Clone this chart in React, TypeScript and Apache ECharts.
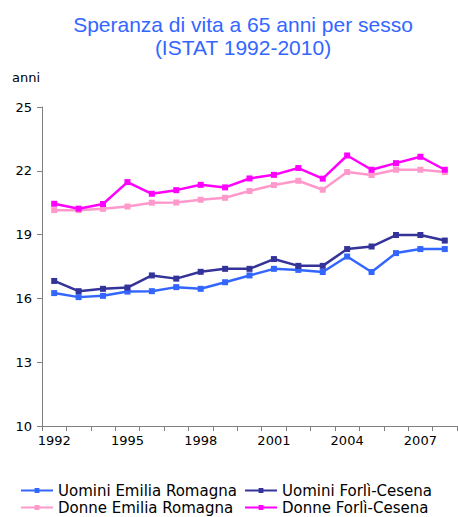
import React, { useEffect, useRef } from "react";
import * as echarts from "echarts";

const years = ["1992","1993","1994","1995","1996","1997","1998","1999","2000","2001","2002","2003","2004","2005","2006","2007","2008"];
const uominiER = [16.25,16.06,16.12,16.32,16.34,16.53,16.45,16.76,17.08,17.39,17.34,17.24,17.97,17.24,18.13,18.32,18.32];
const uominiFC = [16.82,16.34,16.45,16.51,17.08,16.93,17.25,17.39,17.39,17.85,17.53,17.53,18.32,18.44,18.98,18.98,18.72];
const donneER = [20.15,20.15,20.21,20.32,20.5,20.51,20.64,20.73,21.05,21.33,21.53,21.11,21.94,21.8,22.05,22.05,21.94];
const donneFC = [20.45,20.22,20.44,21.47,20.92,21.09,21.34,21.22,21.64,21.81,22.13,21.63,22.72,22.05,22.36,22.66,22.05];

const seriesNames = ["Uomini Emilia Romagna", "Uomini Forlì-Cesena", "Donne Emilia Romagna", "Donne Forlì-Cesena"];
const seriesColors = ["#3366FF", "#333399", "#FF99CC", "#FF00FF"];
const seriesData = [uominiER, uominiFC, donneER, donneFC];

export default function App() {
  const ref = useRef<HTMLDivElement>(null);
  useEffect(() => {
    if (!ref.current) return;
    const chart = echarts.init(ref.current, null, { renderer: "svg" });
    const font = "DejaVu Sans";
    const legendPos = [
      { left: 20, top: 483 },
      { left: 244, top: 483 },
      { left: 20, top: 500 },
      { left: 244, top: 500 },
    ];
    chart.setOption({
      animation: false,
      backgroundColor: "#ffffff",
      title: {
        text: "Speranza di vita a 65 anni per sesso\n(ISTAT 1992-2010)",
        left: 238,
        textAlign: "center",
        top: 8,
        textStyle: {
          color: "#3366FF",
          fontFamily: "Liberation Sans",
          fontSize: 21,
          fontWeight: "normal",
          lineHeight: 23,
        },
      },
      graphic: [
        {
          type: "text",
          left: 12,
          top: 71,
          style: { text: "anni", font: "13px DejaVu Sans", fill: "#000" },
        },
      ],
      legend: seriesNames.map((n, i) => ({
        data: [n],
        left: legendPos[i].left,
        top: legendPos[i].top,
        padding: 0,
        itemWidth: 32,
        itemHeight: 6,
        itemGap: 4,
        textStyle: { fontFamily: font, fontSize: 15, color: "#000" },
      })),
      grid: { left: 42, right: 1, top: 107, bottom: 91, containLabel: false },
      xAxis: {
        type: "category",
        data: years,
        boundaryGap: true,
        axisLine: { lineStyle: { color: "#808080", width: 1 } },
        axisTick: { show: true, interval: 0, length: 5, lineStyle: { color: "#808080" } },
        axisLabel: { interval: 2, color: "#000", fontFamily: font, fontSize: 13, margin: 8 },
        splitLine: { show: false },
      },
      yAxis: {
        type: "value",
        min: 10,
        max: 25,
        interval: 3,
        axisLine: { show: true, lineStyle: { color: "#808080", width: 1 } },
        axisTick: { show: true, length: 5, lineStyle: { color: "#808080" } },
        axisLabel: { color: "#000", fontFamily: font, fontSize: 13, margin: 10 },
        splitLine: { show: false },
      },
      series: seriesNames.map((n, i) => ({
        name: n,
        type: "line",
        data: seriesData[i],
        symbol: "rect",
        symbolSize: 6,
        color: seriesColors[i],
        lineStyle: { width: 2.5, color: seriesColors[i] },
        itemStyle: { color: seriesColors[i] },
        z: 2 + (i % 2 === 1 ? 1 : 0),
      })),
    });
    return () => chart.dispose();
  }, []);
  return <div ref={ref} style={{ width: 458, height: 517, position: "absolute", left: 0, top: 0 }} />;
}
